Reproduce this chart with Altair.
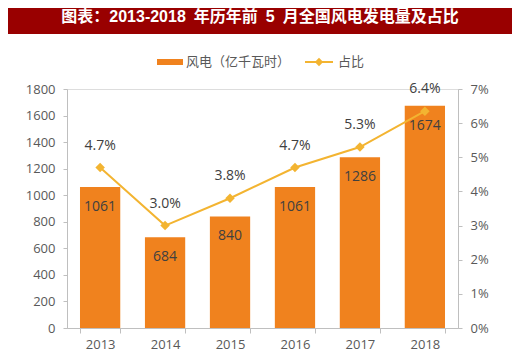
import altair as alt
import pandas as pd

years = ["2013", "2014", "2015", "2016", "2017", "2018"]
wind = [1061, 684, 840, 1061, 1286, 1674]
share = [4.7, 3.0, 3.8, 4.7, 5.3, 6.35]
share_labels = ["4.7%", "3.0%", "3.8%", "4.7%", "5.3%", "6.4%"]
left_ticks = [0, 200, 400, 600, 800, 1000, 1200, 1400, 1600, 1800]
right_ticks = [0, 1, 2, 3, 4, 5, 6, 7]

title_text = "图表：2013-2018\u2002年历年前\u20025\u2002月全国风电发电量及占比"
legend_bar = "风电（亿千瓦时）"
legend_line = "占比"

df = pd.DataFrame({"year": years, "wind": wind, "share": share, "share_label": share_labels})
one = pd.DataFrame({"k": [0]})

FONT = "Open Sans, Noto Sans CJK SC"
CJK = "Noto Sans CJK SC"
TFONT = "Liberation Sans, Noto Sans CJK SC"
BAR = "#F0821E"
LINE = "#F3B431"
TXT = "#404040"
AX = "#595959"
W, H = 391, 239

xaxis = alt.Axis(labelAngle=0, labelFontSize=13, labelColor=AX, labelFont=FONT,
                 domainColor="#BFBFBF", tickColor="#BFBFBF", tickBand="extent",
                 tickSize=5, labelPadding=5)
xscale = alt.Scale(paddingInner=0.38, paddingOuter=0.2)
laxis = alt.Axis(values=left_ticks, grid=False, labelFontSize=13,
                 labelColor=AX, labelFont=FONT, domainColor="#BFBFBF", format="d",
                 labelOverlap=False, tickColor="#BFBFBF", tickSize=4, labelPadding=8)
raxis = alt.Axis(orient="right", values=right_ticks, grid=False,
                 labelExpr="datum.value + '%'", labelFontSize=13, labelColor=AX,
                 labelOverlap=False, labelFont=FONT, domainColor="#BFBFBF",
                 tickColor="#BFBFBF", tickSize=4, labelPadding=8)
yl = alt.Scale(domain=[0, 1800])
yr = alt.Scale(domain=[0, 7])


def X():
    return alt.X("year:N", title=None, scale=xscale, axis=xaxis)


def YL():
    return alt.Y("wind:Q", scale=yl, title=None, axis=laxis)


def YR():
    return alt.Y("share:Q", scale=yr, title=None, axis=raxis)


bars = alt.Chart(df).mark_bar(color=BAR).encode(x=X(), y=YL())
bar_text = alt.Chart(df).mark_text(dy=20, fontSize=14, color=TXT, font=FONT).encode(
    x=X(), y=YL(), text="wind:Q"
)

line = alt.Chart(df).mark_line(color=LINE, strokeWidth=2).encode(x=X(), y=YR())
pts = alt.Chart(df).mark_point(shape="diamond", filled=True, size=90, color=LINE, opacity=1).encode(
    x=X(), y=YR()
)
pct_text = alt.Chart(df).mark_text(dy=-22, fontSize=14, color=TXT, font=FONT).encode(
    x=X(), y=YR(), text="share_label:N"
)

# title bar
tbar = alt.Chart(one).mark_rect(color="#990000").encode(
    x=alt.value(-59), x2=alt.value(W + 54), y=alt.value(-81), y2=alt.value(-55)
)
ttext = alt.Chart(one).mark_text(text=title_text, color="white", fontSize=16, fontWeight="bold",
                                 font=TFONT, align="center", baseline="middle").encode(
    x=alt.value(193), y=alt.value(-72)
)
# legend
lg_rect = alt.Chart(one).mark_rect(color=BAR).encode(
    x=alt.value(90), x2=alt.value(116), y=alt.value(-30), y2=alt.value(-24)
)
lg_t1 = alt.Chart(one).mark_text(text=legend_bar, color=AX, fontSize=13, font=CJK,
                                 align="left", baseline="middle").encode(
    x=alt.value(119), y=alt.value(-27)
)
lg_line = alt.Chart(one).mark_rule(color=LINE, strokeWidth=2).encode(
    x=alt.value(238), x2=alt.value(266), y=alt.value(-27)
)
lg_pt = alt.Chart(one).mark_point(shape="diamond", filled=True, size=70, color=LINE, opacity=1).encode(
    x=alt.value(252), y=alt.value(-27)
)
lg_t2 = alt.Chart(one).mark_text(text=legend_line, color=AX, fontSize=13, font=CJK,
                                 align="left", baseline="middle").encode(
    x=alt.value(271), y=alt.value(-27)
)

left = alt.layer(bars, bar_text)
right = alt.layer(line, pts, pct_text)
main = alt.layer(left, right).resolve_scale(y="independent")

chart = alt.layer(main, tbar, ttext, lg_rect, lg_t1, lg_line, lg_pt, lg_t2).properties(
    width=W, height=H,
    autosize=alt.AutoSizeParams(type="none"),
    padding={"left": 59, "top": 81, "right": 54, "bottom": 32},
).configure_view(stroke=None).configure(background="white")

chart.save("out.html", embed_options={"renderer": "svg", "actions": False})
